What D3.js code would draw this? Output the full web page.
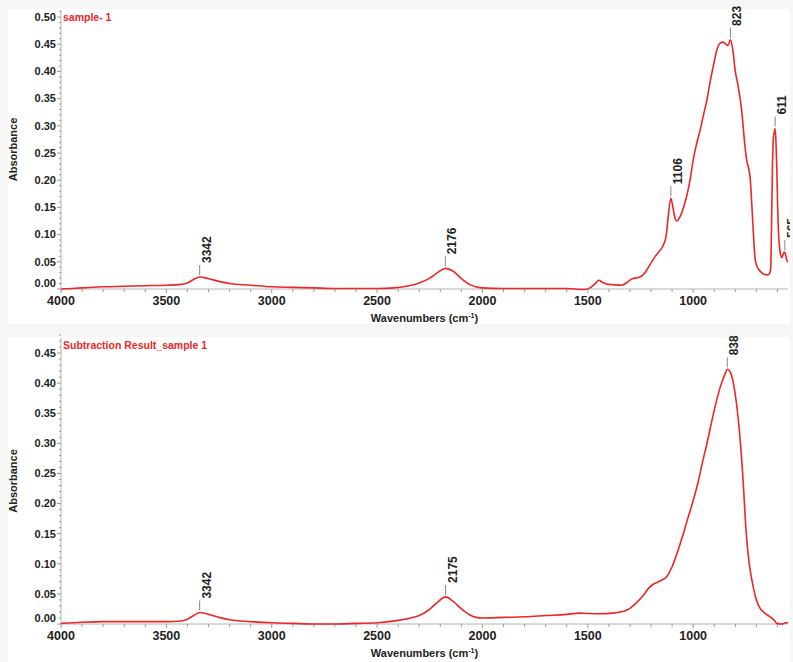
<!DOCTYPE html>
<html>
<head>
<meta charset="utf-8">
<script src="https://cdn.jsdelivr.net/npm/d3@7"></script>
<style>
    html, body { margin: 0; padding: 0; background: #f6f6f6; }
    svg { display: block; font-family: "Liberation Sans", Arial, sans-serif; }
</style>
</head>
<body>
<svg id="chart" width="793" height="662"></svg>
<script>
"use strict";

// data: sample- 1 (wavenumber, absorbance)
const sampleWn = [4000, 3900, 3800, 3700, 3600, 3500, 3440, 3400, 3370, 3342, 3300, 3250, 3200, 3100, 3000, 2900, 2800, 2700, 2600, 2500,
    2420, 2360, 2300, 2250, 2210, 2176, 2140, 2100, 2060, 2020, 2000, 1900, 1800, 1700, 1600, 1560, 1520, 1490, 1465, 1448,
    1430, 1410, 1380, 1340, 1310, 1290, 1260, 1240, 1220, 1200, 1180, 1160, 1140, 1128, 1118, 1106, 1096, 1086, 1078, 1060,
    1046, 1030, 1015, 1000, 985, 967, 950, 935, 920, 905, 888, 872, 858, 845, 835, 823, 812, 800, 790, 770,
    754, 746, 730, 716, 706, 695, 680, 665, 645, 636, 632, 628, 624, 619, 614, 611, 607, 603, 599, 594,
    588, 583, 578, 572, 566, 561, 556, 550];
const sampleAbs = [0.000, 0.002, 0.004, 0.005, 0.006, 0.007, 0.008, 0.011, 0.018, 0.022, 0.019, 0.014, 0.010, 0.007, 0.004, 0.003, 0.002, 0.001, 0.001, 0.001,
    0.002, 0.005, 0.011, 0.020, 0.031, 0.038, 0.033, 0.019, 0.008, 0.003, 0.002, 0.001, 0.001, 0.001, 0.001, 0.000, -0.001, 0.002, 0.010, 0.016,
    0.012, 0.009, 0.008, 0.007, 0.013, 0.019, 0.021, 0.025, 0.035, 0.048, 0.060, 0.070, 0.082, 0.098, 0.135, 0.167, 0.150, 0.130, 0.125, 0.135,
    0.150, 0.172, 0.200, 0.237, 0.265, 0.292, 0.322, 0.347, 0.380, 0.409, 0.439, 0.452, 0.454, 0.450, 0.448, 0.458, 0.440, 0.400, 0.380, 0.329,
    0.262, 0.237, 0.206, 0.115, 0.055, 0.040, 0.032, 0.027, 0.026, 0.030, 0.040, 0.120, 0.220, 0.280, 0.290, 0.295, 0.270, 0.220, 0.150, 0.096,
    0.070, 0.060, 0.058, 0.065, 0.068, 0.062, 0.053, 0.050];

// data: Subtraction Result_sample 1
const resultWn = [4000, 3900, 3800, 3700, 3600, 3500, 3430, 3400, 3370, 3342, 3300, 3250, 3200, 3100, 3000, 2900, 2800, 2700, 2600, 2500,
    2400, 2340, 2300, 2260, 2220, 2175, 2140, 2100, 2060, 2030, 2000, 1900, 1800, 1700, 1600, 1540, 1450, 1380, 1330, 1300,
    1270, 1240, 1210, 1190, 1160, 1125, 1100, 1077, 1050, 1030, 1000, 975, 955, 935, 904, 872, 849, 838, 825, 812,
    800, 794, 778, 763, 750, 739, 725, 714, 700, 682, 660, 635, 615, 603, 580, 560, 550];
const resultAbs = [0.001, 0.003, 0.004, 0.004, 0.004, 0.004, 0.005, 0.008, 0.014, 0.019, 0.016, 0.011, 0.007, 0.004, 0.002, 0.001, 0.000, 0.000, 0.001, 0.002,
    0.006, 0.010, 0.014, 0.022, 0.034, 0.045, 0.038, 0.025, 0.015, 0.011, 0.010, 0.011, 0.012, 0.014, 0.016, 0.018, 0.017, 0.018, 0.021, 0.026,
    0.035, 0.046, 0.060, 0.066, 0.071, 0.079, 0.095, 0.117, 0.146, 0.170, 0.205, 0.238, 0.270, 0.299, 0.349, 0.393, 0.415, 0.423, 0.419, 0.405,
    0.380, 0.365, 0.310, 0.238, 0.160, 0.115, 0.080, 0.060, 0.040, 0.026, 0.018, 0.012, 0.006, 0.001, 0.000, 0.002, 0.002];

// peak labels
const samplePeaks = [3342, 2176, 1106, 823, 611, 565];
const resultPeaks = [3342, 2175, 838];

// tick labels
const xTicks = [4000, 3500, 3000, 2500, 2000, 1500, 1000];
const sampleYTicks = [0.00, 0.05, 0.10, 0.15, 0.20, 0.25, 0.30, 0.35, 0.40, 0.45, 0.50];
const resultYTicks = [0.00, 0.05, 0.10, 0.15, 0.20, 0.25, 0.30, 0.35, 0.40, 0.45];


// setting
const setting = {
    left: 61,
    right: 788,
    clipRight: 790,
    lineColor: "#ee2626",
    axisColor: "#b4b4b4",
    panels: [
        { card: [8, 9, 785, 315], top: 10, bottom: 289, yMax: 0.513, title: "sample- 1", titleY: 21,
          wn: sampleWn, abs: sampleAbs, peaks: samplePeaks, yTicks: sampleYTicks, xLabelY: 305, xTitleY: 322 },
        { card: [8, 337, 785, 325], top: 338, bottom: 624, yMax: 0.475, title: "Subtraction Result_sample 1", titleY: 349,
          wn: resultWn, abs: resultAbs, peaks: resultPeaks, yTicks: resultYTicks, xLabelY: 640, xTitleY: 657 }
    ]
};

const svg = d3.select("#chart");

svg.append("defs")
.append("clipPath")
.attr("id", "clipRight")
.append("rect")
.attr("x", 0).attr("y", 0)
.attr("width", setting.clipRight).attr("height", 662);


function panel(p, idx) {

    let g = svg.append("g").attr("class", "panel").attr("clip-path", "url(#clipRight)");

    // card background
    g.append("rect")
    .attr("x", p.card[0]).attr("y", p.card[1])
    .attr("width", p.card[2]).attr("height", p.card[3])
    .attr("fill", "#fff");

    // scales
    let scaleX = d3.scaleLinear().domain([4000, 550]).range([setting.left, setting.right]);
    let scaleY = d3.scaleLinear().domain([0, p.yMax]).range([p.bottom, p.top]);

    let points = p.wn.map((w, i) => ({ w: w, a: p.abs[i] }));

    // x axis line + ticks
    g.append("line")
    .attr("x1", setting.left).attr("x2", setting.right)
    .attr("y1", p.bottom).attr("y2", p.bottom)
    .attr("stroke", setting.axisColor);

    g.append("g")
    .selectAll("line")
    .data(d3.range(4000, 549, -100))
    .join("line")
    .attr("x1", d => scaleX(d)).attr("x2", d => scaleX(d))
    .attr("y1", p.bottom)
    .attr("y2", d => p.bottom + (d % 500 === 0 ? 4 : 3))
    .attr("stroke", "#9a9a9a");

    g.append("g")
    .selectAll("text")
    .data(xTicks)
    .join("text")
    .attr("x", d => scaleX(d))
    .attr("y", p.xLabelY)
    .attr("text-anchor", "middle")
    .attr("font-size", "12.5px")
    .attr("font-weight", "bold")
    .attr("fill", "#222")
    .text(d => d);

    // x axis label
    let xt = g.append("text")
    .attr("x", (setting.left + setting.right) / 2)
    .attr("y", p.xTitleY)
    .attr("text-anchor", "middle")
    .attr("font-size", "11px")
    .attr("font-weight", "bold")
    .attr("fill", "#222");
    xt.append("tspan").text("Wavenumbers (cm");
    xt.append("tspan").attr("font-size", "7px").attr("dy", -4).text("-1");
    xt.append("tspan").attr("dy", 4).text(")");

    // y axis line + ticks
    g.append("line")
    .attr("x1", setting.left).attr("x2", setting.left)
    .attr("y1", p.top).attr("y2", p.bottom)
    .attr("stroke", setting.axisColor);

    g.append("g")
    .selectAll("line")
    .data(d3.range(0, Math.round(p.yMax * 100) + 1).map(d => d / 100))
    .join("line")
    .attr("x1", setting.left)
    .attr("x2", (d, i) => setting.left - (i % 5 === 0 ? 4 : 2))
    .attr("y1", d => scaleY(d)).attr("y2", d => scaleY(d))
    .attr("stroke", "#9a9a9a");

    g.append("g")
    .selectAll("text")
    .data(p.yTicks)
    .join("text")
    .attr("x", setting.left - 5)
    .attr("y", d => Math.min(scaleY(d), p.bottom - 6))
    .attr("dy", "0.35em")
    .attr("text-anchor", "end")
    .attr("font-size", "11px")
    .attr("font-weight", "bold")
    .attr("fill", "#222")
    .text(d => d.toFixed(2));

    // y axis label
    g.append("text")
    .attr("transform", `translate(17, ${(p.top + p.bottom) / 2}) rotate(-90)`)
    .attr("text-anchor", "middle")
    .attr("font-size", "11px")
    .attr("font-weight", "bold")
    .attr("fill", "#222")
    .text("Absorbance");

    // title
    g.append("text")
    .attr("x", setting.left + 2)
    .attr("y", p.titleY)
    .attr("font-size", "10.5px")
    .attr("font-weight", "bold")
    .attr("fill", setting.lineColor)
    .text(p.title);

    // spectrum
    let line = d3.line()
    .x(d => scaleX(d.w))
    .y(d => scaleY(d.a))
    .curve(d3.curveMonotoneX);

    g.append("path")
    .datum(points)
    .attr("d", line)
    .attr("fill", "none")
    .attr("stroke", setting.lineColor)
    .attr("stroke-width", 1.6);

    // peak labels
    let peak = g.append("g")
    .selectAll("g")
    .data(p.peaks)
    .join("g")
    .attr("transform", d => {
        let a = p.abs[p.wn.indexOf(d)];
        if (a === undefined) a = d3.max(points.filter(e => Math.abs(e.w - d) < 8), e => e.a);
        return `translate(${scaleX(d)}, ${scaleY(a)})`;
    });

    peak.append("line")
    .attr("x1", 0).attr("x2", 0)
    .attr("y1", -2).attr("y2", -12)
    .attr("stroke", "#888");

    peak.append("text")
    .attr("transform", "translate(11, -14) rotate(-90)")
    .attr("font-size", "12px")
    .attr("font-weight", "bold")
    .attr("fill", "#222")
    .text(d => d);
}

setting.panels.forEach(panel);
</script>
</body>
</html>
